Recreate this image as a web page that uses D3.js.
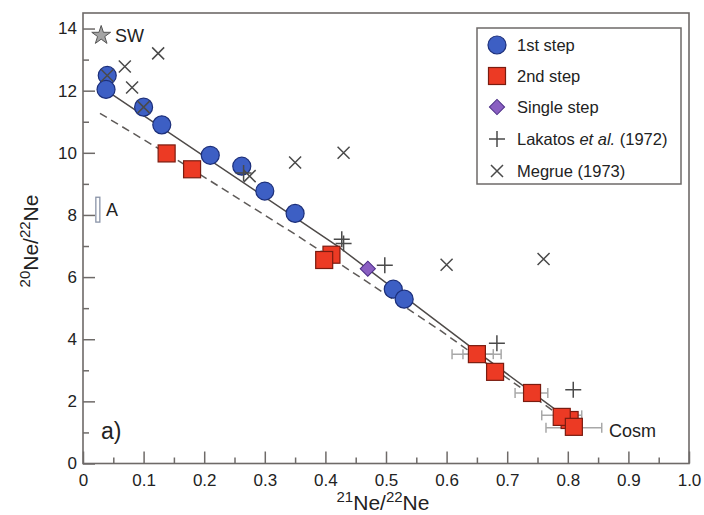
<!DOCTYPE html>
<html><head><meta charset="utf-8">
<script src="https://cdn.jsdelivr.net/npm/d3@7"></script>
<style>
body{margin:0;background:#fff;}
svg{display:block;font-family:"Liberation Sans",Arial,Helvetica,sans-serif;}
</style></head>
<body><svg id="chart" width="704" height="515"></svg>
<script>
// ---- data ----
const step1X = [0.04, 0.038, 0.10, 0.13, 0.21, 0.262, 0.30, 0.35, 0.512, 0.53];
const step1Y = [12.49, 12.04, 11.47, 10.9, 9.92, 9.57, 8.77, 8.05, 5.61, 5.29];
const step2X = [0.138, 0.18, 0.41, 0.398, 0.65, 0.68, 0.741, 0.803, 0.79, 0.81];
const step2Y = [9.98, 9.47, 6.72, 6.55, 3.52, 2.95, 2.27, 1.4, 1.5, 1.18];
const errY  = [3.52, 3.52, 2.27, 1.55, 1.15];
const errLo = [0.609, 0.627, 0.713, 0.757, 0.764];
const errHi = [0.69, 0.677, 0.767, 0.823, 0.856];
const singleX = [0.47];
const singleY = [6.27];
const lakatosX = [0.265, 0.427, 0.43, 0.498, 0.683, 0.809];
const lakatosY = [9.35, 7.22, 7.08, 6.38, 3.87, 2.37];
const megrueX = [0.069, 0.124, 0.081, 0.04, 0.10, 0.275, 0.35, 0.43, 0.60, 0.76];
const megrueY = [12.78, 13.2, 12.1, 12.49, 11.47, 9.25, 9.69, 10.0, 6.4, 6.58];
const solidLineX = [0.035, 0.42, 0.65, 0.81];
const solidLineY = [12.05, 7.0, 3.6, 1.3];
const dashLineX = [0.028, 0.138, 0.358, 0.589, 0.79];
const dashLineY = [11.27, 9.98, 7.28, 4.29, 1.5];
const swX = [0.03], swY = [13.78];
const aX = [0.0245], aLo = [7.77], aHi = [8.57];
const xTicks = [0, 0.1, 0.2, 0.3, 0.4, 0.5, 0.6, 0.7, 0.8, 0.9, 1.0];
const xTickLabels = ["0", "0.1", "0.2", "0.3", "0.4", "0.5", "0.6", "0.7", "0.8", "0.9", "1.0"];
const yTicks = [0, 2, 4, 6, 8, 10, 12, 14];
const legendLabels = ["1st step", "2nd step", "Single step", "Lakatos et al. (1972)", "Megrue (1973)"];

// ---- layout ----
const svg = d3.select("#chart");
const L = 83, R = 689, T = 13, B = 463.5;
const x = d3.scaleLinear().domain([0, 1]).range([L, R]);
const y = d3.scaleLinear().domain([0, 14.5]).range([B, T]);

const cBlue = "#3d5fc4", sBlue = "#1c2f7a";
const cRed = "#ec3a24", sRed = "#7a1c10";
const cPurp = "#8a5fc2", sPurp = "#4a2c86";
const markCol = "#4a4a4a";
const txtCol = "#222";

// frame
svg.append("rect").attr("x", L).attr("y", T).attr("width", R - L).attr("height", B - T)
  .attr("fill", "none").attr("stroke", "#6e6a68").attr("stroke-width", 1.6);

// axes
const gx = svg.append("g").attr("transform", `translate(0,${B})`);
gx.call(d3.axisBottom(x).tickValues(d3.range(0.05, 1, 0.1)).tickSize(-6).tickFormat(""));
gx.select(".domain").remove();
const gx2 = svg.append("g").attr("transform", `translate(0,${B})`);
gx2.call(d3.axisBottom(x).tickValues(xTicks).tickSize(-12).tickPadding(10)
  .tickFormat((d, i) => xTickLabels[i]));
gx2.select(".domain").remove();

const gy = svg.append("g").attr("transform", `translate(${L},0)`);
gy.call(d3.axisLeft(y).tickValues(d3.range(1, 14.5, 2)).tickSize(-6).tickFormat(""));
gy.select(".domain").remove();
const gy2 = svg.append("g").attr("transform", `translate(${L},0)`);
gy2.call(d3.axisLeft(y).tickValues(yTicks).tickSize(-12).tickPadding(6).tickFormat(d3.format("d")));
gy2.select(".domain").remove();

svg.selectAll(".tick line").attr("stroke", "#6e6a68").attr("stroke-width", 1.5);
svg.selectAll(".tick text").attr("fill", txtCol).style("font-size", "17px")
  .style("font-family", '"Liberation Sans",Arial,sans-serif');

// axis titles
const xt = svg.append("text").attr("x", 383).attr("y", 510).attr("text-anchor", "middle")
  .attr("fill", txtCol).style("font-size", "21px");
xt.append("tspan").attr("dy", -8).style("font-size", "15px").text("21");
xt.append("tspan").attr("dy", 8).text("Ne/");
xt.append("tspan").attr("dy", -8).style("font-size", "15px").text("22");
xt.append("tspan").attr("dy", 8).text("Ne");

const yt = svg.append("text").attr("transform", "translate(38,241) rotate(-90)")
  .attr("text-anchor", "middle").attr("fill", txtCol).style("font-size", "21px");
yt.append("tspan").attr("dy", -8).style("font-size", "15px").text("20");
yt.append("tspan").attr("dy", 8).text("Ne/");
yt.append("tspan").attr("dy", -8).style("font-size", "15px").text("22");
yt.append("tspan").attr("dy", 8).text("Ne");

// lines
const line = d3.line().x(d => x(d[0])).y(d => y(d[1]));
svg.append("path").datum(dashLineX.map((v, i) => [v, dashLineY[i]])).attr("d", line)
  .attr("fill", "none").attr("stroke", "#5e5a58").attr("stroke-width", 1.5).attr("stroke-dasharray", "8,5");
svg.append("path").datum(solidLineX.map((v, i) => [v, solidLineY[i]])).attr("d", line)
  .attr("fill", "none").attr("stroke", "#4e4a48").attr("stroke-width", 1.5);

// error bars
const eb = svg.append("g").attr("stroke", "#a8a8a8").attr("stroke-width", 1.5).attr("fill", "none");
errY.forEach((v, i) => {
  eb.append("line").attr("x1", x(errLo[i])).attr("x2", x(errHi[i])).attr("y1", y(v)).attr("y2", y(v));
  [errLo[i], errHi[i]].forEach(e => eb.append("line").attr("x1", x(e)).attr("x2", x(e))
    .attr("y1", y(v) - 5).attr("y2", y(v) + 5));
});

// SW star and A bar
svg.append("path").attr("d", d3.symbol(d3.symbolStar, 110)())
  .attr("transform", `translate(${x(swX[0])},${y(swY[0])})`)
  .attr("fill", "#a4a4a4").attr("stroke", "#555").attr("stroke-width", 1);
svg.append("text").attr("x", 115).attr("y", 42).attr("fill", txtCol).style("font-size", "18px").text("SW");
svg.append("rect").attr("x", x(aX[0]) - 2).attr("y", y(aHi[0])).attr("width", 4)
  .attr("height", y(aLo[0]) - y(aHi[0])).attr("fill", "#fff").attr("stroke", "#8a94a8").attr("stroke-width", 1.3);
svg.append("text").attr("x", 106).attr("y", 216).attr("fill", txtCol).style("font-size", "18px").text("A");

// squares (2nd step)
const sq = 17;
svg.append("g").selectAll("rect").data(step2X).join("rect")
  .attr("x", d => x(d) - sq / 2).attr("y", (d, i) => y(step2Y[i]) - sq / 2)
  .attr("width", sq).attr("height", sq).attr("fill", cRed).attr("stroke", sRed).attr("stroke-width", 1.2);

// circles (1st step)
svg.append("g").selectAll("circle").data(step1X).join("circle")
  .attr("cx", d => x(d)).attr("cy", (d, i) => y(step1Y[i])).attr("r", 9)
  .attr("fill", cBlue).attr("stroke", sBlue).attr("stroke-width", 1.2);

// single step diamond (square rotated 45deg)
const diamond = d3.symbol(d3.symbolSquare, 115)();
svg.append("g").selectAll("path").data(singleX).join("path")
  .attr("d", diamond)
  .attr("transform", (d, i) => `translate(${x(d)},${y(singleY[i])}) rotate(45)`)
  .attr("fill", cPurp).attr("stroke", sPurp).attr("stroke-width", 1);

// Lakatos plus
const plusPath = "M-8,0H8M0,-8V8";
const xPath = "M-6,-6L6,6M-6,6L6,-6";
svg.append("g").selectAll("path").data(lakatosX).join("path")
  .attr("d", plusPath).attr("transform", (d, i) => `translate(${x(d)},${y(lakatosY[i])})`)
  .attr("stroke", markCol).attr("stroke-width", 1.5).attr("fill", "none");
// Megrue x
svg.append("g").selectAll("path").data(megrueX).join("path")
  .attr("d", xPath).attr("transform", (d, i) => `translate(${x(d)},${y(megrueY[i])})`)
  .attr("stroke", markCol).attr("stroke-width", 1.5).attr("fill", "none");

// labels
svg.append("text").attr("x", 101).attr("y", 439).attr("fill", txtCol).style("font-size", "23px").text("a)");
svg.append("text").attr("x", 609).attr("y", 437).attr("fill", txtCol).style("font-size", "18px").text("Cosm");

// legend
const lg = svg.append("g");
lg.append("rect").attr("x", 477).attr("y", 28).attr("width", 204).attr("height", 156)
  .attr("fill", "#fff").attr("stroke", "#6e6a68").attr("stroke-width", 1.5);
const rowY = [45, 76, 107, 139, 171];
const sx = 497, tx = 517;
lg.append("circle").attr("cx", sx).attr("cy", rowY[0]).attr("r", 9).attr("fill", cBlue).attr("stroke", sBlue).attr("stroke-width", 1.2);
lg.append("rect").attr("x", sx - 8.5).attr("y", rowY[1] - 8.5).attr("width", sq).attr("height", sq).attr("fill", cRed).attr("stroke", sRed).attr("stroke-width", 1.2);
lg.append("path").attr("d", diamond).attr("transform", `translate(${sx},${rowY[2]}) rotate(45)`).attr("fill", cPurp).attr("stroke", sPurp);
lg.append("path").attr("d", plusPath).attr("transform", `translate(${sx},${rowY[3]})`).attr("stroke", markCol).attr("stroke-width", 1.5);
lg.append("path").attr("d", xPath).attr("transform", `translate(${sx},${rowY[4]})`).attr("stroke", markCol).attr("stroke-width", 1.5);
legendLabels.forEach((lab, i) => {
  const t = lg.append("text").attr("x", tx).attr("y", rowY[i] + 6).attr("fill", txtCol).style("font-size", "16.5px");
  if (lab.includes("et al.")) {
    const parts = lab.split("et al.");
    t.append("tspan").text(parts[0]);
    t.append("tspan").style("font-style", "italic").text("et al.");
    t.append("tspan").text(parts[1]);
  } else t.text(lab);
});
</script></body></html>
